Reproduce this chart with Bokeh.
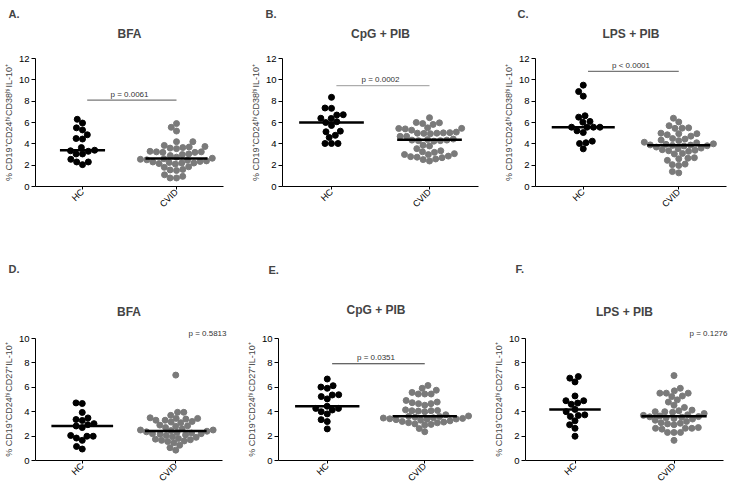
import numpy as np
from math import pi
from bokeh.plotting import figure
from bokeh.layouts import row, column
from bokeh.models import FixedTicker, Title, Label, Range1d, GlobalInlineStyleSheet
from bokeh.embed import file_html
from bokeh.resources import INLINE

# ---------------- data ----------------
groups = ["HC", "CVID"]
letters = ["A.", "B.", "C.", "D.", "E.", "F."]
titles = ["BFA", "CpG + PIB", "LPS + PIB", "BFA", "CpG + PIB", "LPS + PIB"]
ylabel_top = "% CD19⁺CD24ʰⁱCD38ʰⁱIL-10⁺"
ylabel_bottom = "% CD19⁺CD24ʰⁱCD27⁺IL-10⁺"
p_texts = ["p = 0.0061", "p = 0.0002", "p < 0.0001", "p = 0.5813", "p = 0.0351", "p = 0.1276"]
p_bar_y = [8.1, 9.45, 10.8, None, 7.93, None]
y_max = [12, 12, 12, 10, 10, 10]

hc_A = [6.3, 5.95, 5.5, 5.3, 4.85, 4.45, 4.5, 3.65, 3.35, 3.05, 3.05, 3.3, 3.4, 2.3, 2.05, 2.3, 2.55]
cvid_A = [5.9, 5.55, 5.2, 4.2, 4.2, 3.85, 3.75, 3.7, 3.65, 3.6, 3.55, 3.3, 3.25, 3.25, 3.2, 3.2,
          3.05, 3.0, 2.9, 2.75, 2.65, 2.6, 2.55, 2.5, 2.45, 2.4, 2.35, 2.3, 2.25, 2.2, 2.2, 2.15,
          2.1, 1.85, 1.8, 1.6, 1.55, 1.5, 1.1, 0.95, 0.8, 0.8]
hc_B = [8.36, 7.33, 7.36, 6.7, 6.4, 6.73, 6.38, 6.07, 5.72, 6.0, 5.13, 4.8, 5.19, 4.6, 4.03, 4.03, 4.03]
cvid_B = [6.45, 6.0, 5.97, 5.9, 5.82, 5.5, 5.45, 5.44, 5.4, 5.28, 5.1, 5.05, 5.03, 5.0, 5.0, 4.98,
          4.95, 4.7, 4.7, 4.45, 4.4, 4.35, 4.35, 4.3, 4.3, 4.25, 3.87, 3.8, 3.55, 3.35, 3.25, 3.2,
          3.08, 3.0, 2.99, 2.85, 2.8, 2.75, 2.7, 2.58, 2.52, 2.39]
hc_C = [9.5, 8.9, 8.47, 6.5, 6.63, 6.03, 6.1, 5.56, 5.56, 5.56, 5.56, 5.22, 5.06, 4.1, 4.03, 4.25, 3.53]
cvid_C = [6.4, 6.05, 5.7, 5.5, 5.47, 5.45, 5.0, 4.95, 4.95, 4.85, 4.72, 4.5, 4.45, 4.35, 4.3, 4.15,
          4.1, 4.0, 3.95, 3.9, 3.88, 3.85, 3.82, 3.8, 3.7, 3.6, 3.55, 3.45, 3.4, 3.35, 3.3, 3.1,
          3.05, 2.7, 2.65, 2.6, 2.45, 2.1, 2.05, 1.97, 1.4, 1.28]
hc_D = [4.67, 4.72, 3.94, 3.28, 3.49, 3.36, 2.94, 2.7, 2.83, 3.02, 1.99, 1.84, 1.65, 1.99, 2.05, 0.94, 1.15]
cvid_D = [7.0, 3.95, 3.95, 3.7, 3.5, 3.45, 3.45, 3.4, 3.3, 3.3, 3.2, 3.15, 3.1, 2.9, 2.85, 2.8,
          2.7, 2.6, 2.5, 2.5, 2.45, 2.4, 2.35, 2.3, 2.25, 2.2, 2.2, 2.15, 2.1, 2.05, 1.95, 1.9,
          1.8, 1.75, 1.7, 1.65, 1.6, 1.55, 1.45, 1.25, 1.05, 0.85]
hc_E = [6.68, 6.13, 5.92, 6.02, 5.39, 5.24, 5.05, 5.37, 4.27, 4.14, 4.27, 4.45, 3.82, 3.35, 3.19, 4.0, 2.59]
cvid_E = [6.15, 5.92, 5.76, 5.58, 5.45, 5.45, 5.45, 4.92, 4.79, 4.74, 4.66, 4.66, 4.53, 4.15, 4.1,
          4.08, 4.08, 4.05, 4.0, 3.75, 3.65, 3.62, 3.6, 3.55, 3.5, 3.48, 3.45, 3.42, 3.4, 3.38,
          3.35, 3.3, 3.25, 3.2, 3.15, 3.1, 3.09, 3.0, 2.96, 2.9, 2.62, 2.36]
hc_F = [6.75, 6.88, 6.44, 5.29, 4.9, 4.9, 4.71, 4.61, 4.19, 4.0, 3.74, 3.61, 3.69, 3.25, 2.93, 2.64, 1.99]
cvid_F = [6.96, 5.92, 5.71, 5.52, 5.52, 5.52, 5.29, 5.24, 4.97, 4.79, 4.53, 4.35, 4.13, 4.08, 4.0,
          4.0, 3.95, 3.85, 3.75, 3.7, 3.65, 3.6, 3.58, 3.55, 3.5, 3.45, 3.4, 3.3, 3.2, 3.1, 3.05,
          3.0, 2.93, 2.7, 2.64, 2.64, 2.64, 2.57, 2.3, 2.3, 2.3, 1.65]

hc_sets = [hc_A, hc_B, hc_C, hc_D, hc_E, hc_F]
cvid_sets = [cvid_A, cvid_B, cvid_C, cvid_D, cvid_E, cvid_F]

# ---------------- layout / style ----------------
# (width, height, left, right, top, bottom)
geom = [(243, 240, 32, 20, 58, 54), (243, 240, 39, 8, 58, 54), (243, 240, 49, 3, 58, 54),
        (243, 249, 28, 21, 96, 26), (243, 249, 33, 13, 96, 26), (243, 249, 39, 6, 96, 26)]
letter_offset = [-27, -17, -18, -27, -10, -10]
# standoffs of the stacked title panels (inner spacer / p-value, main title, letter)
inner_standoff = [6, 6, 6, 2, None, 2]
main_standoff = [2, 2, 2, 14, 44, 14]
letter_standoff = [7, 7, 7, 41, 5, 41]
bar_color = ["#555555", "#999999", "#555555", None, "#333333", None]
hc_half = [0.24, 0.33, 0.33, 0.33, 0.33, 0.26]
FONT = "Liberation Sans"
HC_COLOR = "black"
CVID_COLOR = "#7a7a7a"
DOT = 6.0
SEP = 6.5


def swarm(vals, ppx, ppy, d):
    order = np.argsort(vals, kind="stable")
    placed = []
    xs = np.zeros(len(vals))
    for i in order:
        y = vals[i] * ppy
        ivs = []
        for (xj, yj) in placed:
            dy = abs(y - yj)
            if dy < d:
                dx = np.sqrt(d * d - dy * dy)
                ivs.append((xj - dx, xj + dx))
        cands = [0.0] + [a for a, b in ivs] + [b for a, b in ivs]
        cands.sort(key=lambda c: (abs(c), c))
        for c in cands:
            if all(not (a + 1e-6 < c < b - 1e-6) for a, b in ivs):
                break
        xs[i] = c / ppx
        placed.append((c, y))
    return xs


figs = []
for k in range(6):
    w, h, bl, br, bt, bb = geom[k]
    ym = y_max[k]
    p = figure(width=w, height=h, output_backend="svg", toolbar_location=None,
               x_range=Range1d(0, 2), y_range=Range1d(0, ym),
               min_border_left=bl, min_border_right=br, min_border_top=bt, min_border_bottom=bb,
               title=letters[k])
    # panel letter (outermost title)
    p.title.align = "left"
    p.title.offset = letter_offset[k]
    p.title.text_font = FONT
    p.title.text_font_size = "11px"
    p.title.text_font_style = "bold"
    p.title.standoff = letter_standoff[k]

    has_bar = p_bar_y[k] is not None
    if inner_standoff[k] is not None:
        inner_text = " " if has_bar else p_texts[k]
        p.add_layout(Title(text=inner_text, align="right", offset=-4, standoff=inner_standoff[k],
                           text_font=FONT, text_font_size="8px", text_font_style="normal",
                           text_color="#333333"), "above")
    p.add_layout(Title(text=titles[k], align="center", text_font=FONT, text_font_size="12px",
                       text_font_style="bold", standoff=main_standoff[k]), "above")

    p.grid.visible = False
    p.outline_line_color = None

    p.xaxis.ticker = FixedTicker(ticks=[0.5, 1.5])
    p.xaxis.major_label_overrides = {0.5: groups[0], 1.5: groups[1]}
    p.xaxis.major_label_orientation = pi / 4
    p.xaxis.major_tick_in = 0
    p.xaxis.major_tick_out = 3
    p.xaxis.minor_tick_line_color = None
    p.xaxis.major_label_standoff = 1
    p.xaxis.major_label_text_font = FONT
    p.xaxis.major_label_text_font_size = "9px"
    p.xaxis.major_label_text_color = "black"

    p.yaxis.ticker = FixedTicker(ticks=list(range(0, ym + 1, 2)))
    p.yaxis.major_tick_in = 0
    p.yaxis.major_tick_out = 4
    p.yaxis.minor_tick_line_color = None
    p.yaxis.major_label_standoff = 2
    p.yaxis.major_label_text_font = FONT
    p.yaxis.major_label_text_font_size = "9.5px"
    p.yaxis.major_label_text_color = "black"
    p.yaxis.axis_label = ylabel_top if k < 3 else ylabel_bottom
    p.yaxis.axis_label_text_font = FONT
    p.yaxis.axis_label_text_font_size = "9px"
    p.yaxis.axis_label_text_font_style = "normal"
    p.yaxis.axis_label_standoff = 2
    for ax in (p.xaxis, p.yaxis):
        ax.axis_line_color = "black"
        ax.major_tick_line_color = "black"

    frame_w = w - bl - br
    frame_h = h - bt - bb
    ppx = frame_w / 2.0
    ppy = frame_h / ym

    for gi, (vals, col, half) in enumerate([(hc_sets[k], HC_COLOR, hc_half[k]),
                                            (cvid_sets[k], CVID_COLOR, 0.33)]):
        v = np.array(vals, dtype=float)
        xo = swarm(v, ppx, ppy, SEP)
        cx = 0.5 + gi
        p.scatter(cx + xo, v, size=DOT, color=col, line_color=col)
        med = float(np.median(v))
        p.segment(x0=[cx - half], x1=[cx + half], y0=[med], y1=[med],
                  line_color="black", line_width=2.5)

    if has_bar:
        by = p_bar_y[k]
        p.segment(x0=[0.55], x1=[1.5], y0=[by], y1=[by], line_color=bar_color[k], line_width=1)
        p.add_layout(Label(x=1.0, y=by + 0.12, text=p_texts[k], text_align="center",
                           text_baseline="bottom", text_font=FONT, text_font_size="8px",
                           text_color="#333333"))
    figs.append(p)

layout = column(row(*figs[:3]), row(*figs[3:]),
                stylesheets=[GlobalInlineStyleSheet(css="body { margin: 0; }")])

open("out.html", "w").write(file_html(layout, INLINE))
